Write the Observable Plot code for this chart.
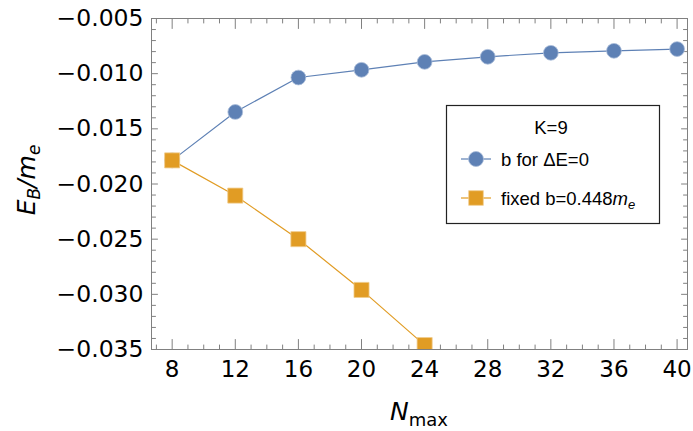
<!DOCTYPE html>
<html><head><meta charset="utf-8">
<script src="https://cdn.jsdelivr.net/npm/d3@7"></script>
<script src="https://cdn.jsdelivr.net/npm/@observablehq/plot@0.6"></script>
<style>
html,body{margin:0;padding:0;background:#fff;}
#wrap{position:relative;width:693px;height:431px;}
</style></head><body><div id="wrap"></div>
<script>
// ---- data ----
const nmax = [8, 12, 16, 20, 24, 28, 32, 36, 40];
const ebZero = [-0.01786, -0.01347, -0.01035, -0.00965, -0.00893, -0.00847, -0.00811, -0.00793, -0.00777];
const nmaxFixed = [8, 12, 16, 20, 24];
const ebFixed = [-0.01786, -0.02105, -0.0250, -0.0296, -0.0346];
const xTicks = [8, 12, 16, 20, 24, 28, 32, 36, 40];
const yTicks = [-0.035, -0.030, -0.025, -0.020, -0.015, -0.010, -0.005];
const xMinor = d3.range(7, 41).filter(v => v % 4 !== 0);
const yMinor = d3.range(-35, -4).filter(v => v % 5 !== 0).map(v => v / 1000);
const seriesNames = ["b for \u0394E=0", "fixed b=0.448"];
const legendTitle = "K=9";

const blue = "#5E81B5", orange = "#E19C24", gray = "#808080";
const zeroRows = nmax.map((n, i) => ({n, e: ebZero[i]}));
const fixedRows = nmaxFixed.map((n, i) => ({n, e: ebFixed[i]}));

// inward tick shapes
const up = {draw(c, l) { c.moveTo(0, 0); c.lineTo(0, -l); }};
const down = {draw(c, l) { c.moveTo(0, 0); c.lineTo(0, l); }};
const rightw = {draw(c, l) { c.moveTo(0, 0); c.lineTo(l, 0); }};
const leftw = {draw(c, l) { c.moveTo(0, 0); c.lineTo(-l, 0); }};
const tx = (data, frameAnchor, shape, length) =>
  Plot.vector(data, {x: d => d, frameAnchor, shape, length, anchor: "start", stroke: gray, strokeWidth: 1});
const ty = (data, frameAnchor, shape, length) =>
  Plot.vector(data, {y: d => d, frameAnchor, shape, length, anchor: "start", stroke: gray, strokeWidth: 1});

const chart = Plot.plot({
  width: 693, height: 431,
  marginLeft: 151, marginRight: 6, marginTop: 18, marginBottom: 82,
  x: {domain: [6.69, 40.66]},
  y: {domain: [-0.035, -0.005]},
  style: {fontFamily: "DejaVu Sans", fontSize: "23px", color: "black", background: "white", overflow: "visible"},
  marks: [
    tx(xMinor, "bottom", up, 4.5),
    tx(xMinor, "top", down, 4.5),
    tx(xTicks, "bottom", up, 10),
    tx(xTicks, "top", down, 10),
    ty(yMinor, "left", rightw, 4),
    ty(yMinor, "right", leftw, 4),
    ty(yTicks, "left", rightw, 6),
    ty(yTicks, "right", leftw, 6),
    Plot.axisX(xTicks, {anchor: "bottom", tickSize: 0, tickPadding: 11, label: null, fontSize: 23, fill: "black", tickFormat: d => String(d)}),
    Plot.axisY(yTicks, {anchor: "left", tickSize: 0, tickPadding: 8, label: null, fontSize: 23.5, fill: "black", tickFormat: d3.format(".3f")}),
    Plot.frame({stroke: gray}),
    Plot.line(zeroRows, {x: "n", y: "e", stroke: blue, strokeWidth: 1.2, clip: true}),
    Plot.dot(zeroRows, {x: "n", y: "e", r: 7.4, fill: blue, stroke: "#a9bcd9", strokeWidth: 0.8}),
    Plot.line(fixedRows, {x: "n", y: "e", stroke: orange, strokeWidth: 1.2, clip: true}),
    Plot.dot(fixedRows, {x: "n", y: "e", r: 8.5, symbol: "square", fill: orange, stroke: "#f0cc8c", strokeWidth: 0.8, clip: true})
  ]
});
document.getElementById("wrap").appendChild(chart);

const svg = d3.select(chart);
// y-axis label
const yl = svg.append("text")
  .attr("transform", "translate(35,180) rotate(-90)")
  .attr("text-anchor", "middle")
  .style("font-family", "DejaVu Sans").style("font-size", "25px").style("font-style", "italic").attr("fill", "black");
yl.append("tspan").text("E");
yl.append("tspan").attr("dy", 5).style("font-size", "17px").text("B");
yl.append("tspan").attr("dy", -5).text("/");
yl.append("tspan").text("m");
yl.append("tspan").attr("dy", 5).style("font-size", "17px").text("e");
// x-axis label
const xl = svg.append("text")
  .attr("x", 419).attr("y", 420).attr("text-anchor", "middle")
  .style("font-family", "DejaVu Sans").style("font-size", "25px").attr("fill", "black");
xl.append("tspan").style("font-style", "italic").text("N");
xl.append("tspan").attr("dy", 6).style("font-size", "18px").text("max");

// legend
const lg = svg.append("g").attr("text-anchor", "start")
  .style("font-family", "Liberation Sans, Arial, sans-serif").style("font-size", "18.5px");
lg.append("rect").attr("x", 446.5).attr("y", 105.5).attr("width", 213).attr("height", 118)
  .attr("fill", "white").attr("stroke", "#222").attr("stroke-width", 1.2);
lg.append("text").attr("x", 551).attr("y", 134).attr("text-anchor", "middle").attr("fill", "black").text(legendTitle);
lg.append("line").attr("x1", 461).attr("x2", 491).attr("y1", 159).attr("y2", 159).attr("stroke", blue).attr("stroke-width", 1.2);
lg.append("circle").attr("cx", 476).attr("cy", 159).attr("r", 7.5).attr("fill", blue).attr("stroke", "#a9bcd9").attr("stroke-width", 0.8);
lg.append("text").attr("x", 501).attr("y", 165.5).attr("text-anchor", "start").attr("fill", "black").text(seriesNames[0]);
lg.append("line").attr("x1", 461).attr("x2", 491).attr("y1", 198).attr("y2", 198).attr("stroke", orange).attr("stroke-width", 1.2);
lg.append("rect").attr("x", 468.75).attr("y", 190.75).attr("width", 14.5).attr("height", 14.5).attr("fill", orange).attr("stroke", "#f0cc8c").attr("stroke-width", 0.8);
const t2 = lg.append("text").attr("x", 501).attr("y", 204.5).attr("text-anchor", "start").attr("fill", "black");
t2.append("tspan").text(seriesNames[1]);
t2.append("tspan").style("font-style", "italic").text("m");
t2.append("tspan").attr("dy", 4).style("font-style", "italic").style("font-size", "13px").text("e");
</script></body></html>
